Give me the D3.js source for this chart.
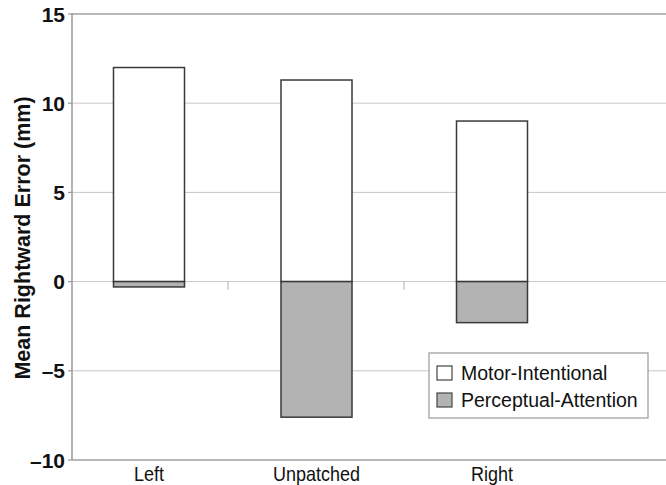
<!DOCTYPE html>
<html>
<head>
<meta charset="utf-8">
<script src="https://cdn.jsdelivr.net/npm/d3@7"></script>
<style>
  html, body { margin: 0; padding: 0; background: #fff; }
  svg { display: block; font-family: "Liberation Sans", Arial, Helvetica, sans-serif; }
</style>
</head>
<body>
<svg id="chart" width="666" height="485"></svg>
<script>
const categories = ["Left", "Unpatched", "Right"];
const seriesNames = ["Motor-Intentional", "Perceptual-Attention"];
const motorIntentional = [12.0, 11.3, 9.0];
const perceptualAttention = [-0.3, -7.6, -2.3];
const yTicks = [-10, -5, 0, 5, 10, 15];
const yTickLabels = ["\u201310", "\u20135", "0", "5", "10", "15"];
const yTitle = "Mean Rightward Error (mm)";

(function () {
const svg = d3.select("#chart");
const pLeft = 72, pRight = 666, pTop = 14, pBottom = 460;
const y = d3.scaleLinear().domain([-10, 15]).range([pBottom, pTop]);
const x = d3.scaleOrdinal().domain(categories).range([149, 316.5, 492]);
const bw = 71;
const colors = d3.scaleOrdinal().domain(seriesNames).range(["#ffffff", "#b3b3b3"]);

// gridlines
svg.append("g").selectAll("line").data(yTicks.filter(t => t > -10 && t < 15)).join("line")
  .attr("x1", pLeft).attr("x2", pRight)
  .attr("y1", d => y(d)).attr("y2", d => y(d))
  .attr("stroke", "#c8c8c8").attr("stroke-width", 1);

// top border
svg.append("line").attr("x1", pLeft).attr("x2", pRight).attr("y1", y(15)).attr("y2", y(15))
  .attr("stroke", "#a0a0a0").attr("stroke-width", 1.5);

// category tick marks below zero line
const boundaries = [228, 404];
svg.append("g").selectAll("line").data(boundaries).join("line")
  .attr("x1", d => d).attr("x2", d => d)
  .attr("y1", y(0)).attr("y2", y(0) + 8)
  .attr("stroke", "#c8c8c8").attr("stroke-width", 1.5);

// bars
const rows = categories.map((c, i) => ({c, m: motorIntentional[i], p: perceptualAttention[i]}));
const barG = svg.append("g");
barG.selectAll("rect.m").data(rows).join("rect").attr("class", "m")
  .attr("x", d => x(d.c) - bw / 2).attr("width", bw)
  .attr("y", d => y(d.m)).attr("height", d => y(0) - y(d.m))
  .attr("fill", colors(seriesNames[0])).attr("stroke", "#3a3a3a").attr("stroke-width", 1.5);
barG.selectAll("rect.p").data(rows).join("rect").attr("class", "p")
  .attr("x", d => x(d.c) - bw / 2).attr("width", bw)
  .attr("y", y(0)).attr("height", d => y(d.p) - y(0))
  .attr("fill", colors(seriesNames[1])).attr("stroke", "#3a3a3a").attr("stroke-width", 1.5);

// axes
svg.append("line").attr("x1", pLeft).attr("x2", pLeft).attr("y1", pTop - 0.75).attr("y2", pBottom)
  .attr("stroke", "#999").attr("stroke-width", 1.5);
svg.append("line").attr("x1", pLeft).attr("x2", pRight).attr("y1", pBottom).attr("y2", pBottom)
  .attr("stroke", "#a0a0a0").attr("stroke-width", 1.5);
svg.append("g").selectAll("line").data(yTicks).join("line")
  .attr("x1", pLeft - 4).attr("x2", pLeft)
  .attr("y1", d => y(d)).attr("y2", d => y(d))
  .attr("stroke", "#999").attr("stroke-width", 1.2);
svg.append("g").selectAll("text").data(yTicks).join("text")
  .attr("x", 65).attr("y", d => y(d)).attr("dy", "0.36em")
  .attr("text-anchor", "end").attr("font-weight", "bold").attr("font-size", 21)
  .attr("fill", "#111")
  .text((d, i) => yTickLabels[i]);

// y title
svg.append("text")
  .attr("transform", "translate(30,238) rotate(-90)")
  .attr("text-anchor", "middle").attr("font-weight", "bold").attr("font-size", 21.5)
  .attr("fill", "#111")
  .text(yTitle);

// x labels (slightly tall glyphs as in the reference)
svg.append("g").selectAll("text").data(categories).join("text")
  .attr("transform", d => `translate(${x(d)},481) scale(1,1.15)`)
  .attr("text-anchor", "middle").attr("font-size", 18).attr("fill", "#111")
  .text(d => d);

// legend
const lg = svg.append("g");
lg.append("rect").attr("x", 429).attr("y", 353).attr("width", 219).attr("height", 65)
  .attr("fill", "#fff").attr("stroke", "#999").attr("stroke-width", 1.2);
const items = lg.selectAll("g.item").data(seriesNames).join("g").attr("class", "item")
  .attr("transform", (d, i) => `translate(437,${366 + i * 27})`);
items.append("rect").attr("width", 15).attr("height", 14)
  .attr("fill", d => colors(d)).attr("stroke", "#444").attr("stroke-width", 1.2);
items.append("text").attr("x", 24).attr("y", 13.5)
  .attr("font-size", 19.5).attr("fill", "#111").text(d => d);
})();
</script>
</body>
</html>
